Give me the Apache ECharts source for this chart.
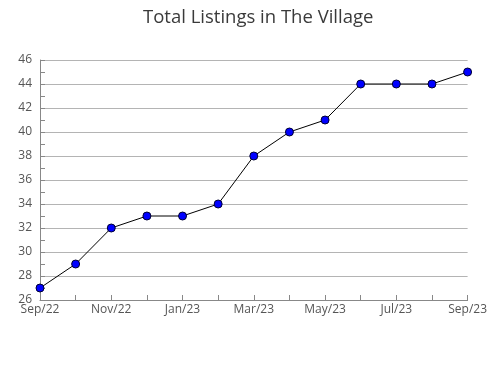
<!DOCTYPE html>
<html>
<head>
<meta charset="utf-8">
<script src="https://cdn.jsdelivr.net/npm/echarts@6/dist/echarts.min.js"></script>
<style>html,body{margin:0;padding:0;background:#fff}#c{width:490px;height:380px}</style>
</head>
<body>
<div id="c"></div>
<script>
var categories = ['Sep/22','Oct/22','Nov/22','Dec/22','Jan/23','Feb/23','Mar/23','Apr/23','May/23','Jun/23','Jul/23','Aug/23','Sep/23'];
var listings = [27, 29, 32, 33, 33, 34, 38, 40, 41, 44, 44, 44, 45];
var titleText = 'Total Listings in The Village';

var chart = echarts.init(document.getElementById('c'));
chart.setOption({
  animation: false,
  backgroundColor: '#ffffff',
  textStyle: { fontFamily: 'Open Sans' },
  title: {
    text: titleText,
    left: 138,
    top: 3,
    textStyle: { fontFamily: 'Open Sans', fontSize: 18.5, fontWeight: 'normal', color: '#3a3a3a' }
  },
  grid: { left: 40, right: 19, top: 60, bottom: 80 },
  xAxis: {
    type: 'category',
    data: categories,
    boundaryGap: false,
    axisLine: { lineStyle: { color: '#888' } },
    axisTick: { show: true, inside: true, length: 5, interval: 0, lineStyle: { color: '#888' } },
    axisLabel: { interval: 1, color: '#555', fontSize: 12, margin: 4 },
    splitLine: { show: false }
  },
  yAxis: {
    type: 'value',
    min: 26, max: 46, interval: 2,
    axisLine: { show: true, lineStyle: { color: '#888' } },
    axisTick: { show: true, inside: true, length: 5, lineStyle: { color: '#888' } },
    minorTick: { show: true, splitNumber: 2, length: 5, lineStyle: { color: '#888' } },
    axisLabel: { color: '#555', fontSize: 12, margin: 8 },
    splitLine: { show: true, lineStyle: { color: '#b4b4b4', width: 1 } }
  },
  series: [{
    type: 'line',
    data: listings,
    symbol: 'circle',
    symbolSize: 8,
    lineStyle: { color: '#000', width: 1 },
    itemStyle: { color: '#0000ff', borderColor: '#000033', borderWidth: 1 }
  }]
});
</script>
</body>
</html>
